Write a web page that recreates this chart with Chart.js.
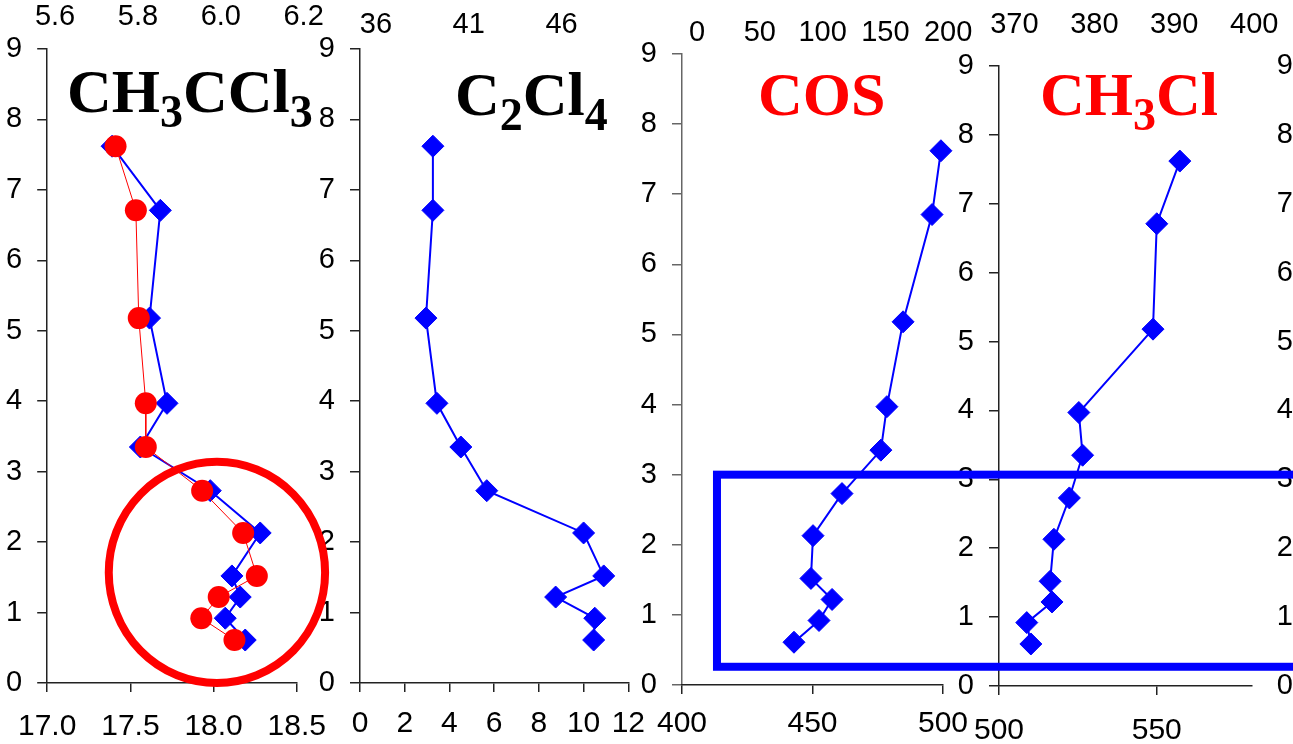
<!DOCTYPE html>
<html>
<head>
<meta charset="utf-8">
<script src="https://cdn.jsdelivr.net/npm/chart.js@4.4.1/dist/chart.umd.min.js"></script>
<style>
html,body{margin:0;padding:0;background:#fff;width:1293px;height:744px;overflow:hidden;position:relative;}
canvas{position:absolute;top:0;}
.title{position:absolute;font:bold 62px "Liberation Serif","Times New Roman",serif;line-height:62px;white-space:nowrap;z-index:10;}
.title sub{font-size:46px;vertical-align:-15px;line-height:0;}
</style>
</head>
<body>
<canvas id="c4" width="349" height="744" style="left:953px;z-index:1"></canvas>
<canvas id="c5" width="100" height="744" style="left:1272px;z-index:1"></canvas>
<canvas id="c2" width="345" height="744" style="left:314px;z-index:1"></canvas>
<canvas id="c1" width="342" height="744" style="left:1px;z-index:2"></canvas>
<canvas id="c3" width="677" height="744" style="left:636px;z-index:3"></canvas>

<div class="title" style="left:67px;top:60px;color:#000">CH<sub>3</sub>CCl<sub>3</sub></div>
<div class="title" style="left:455px;top:63px;color:#000">C<sub>2</sub>Cl<sub>4</sub></div>
<div class="title" style="left:758px;top:63px;color:#f00">COS</div>
<div class="title" style="left:1040px;top:63px;color:#f00">CH<sub>3</sub>Cl</div>

<script>
// altitude (y axis, same for every panel)
var altitude = [7.62, 6.71, 5.18, 3.97, 3.35, 2.73, 2.13, 1.52, 1.22, 0.92, 0.61];

// panel 1: CH3CCl3 (blue on bottom axis, red on top axis)
var ch3ccl3Blue = [17.39, 17.68, 17.615, 17.72, 17.56, 17.98, 18.28, 18.11, 18.16, 18.07, 18.19];
var ch3ccl3Red = [5.746, 5.795, 5.802, 5.819, 5.819, 5.955, 6.054, 6.087, 5.995, 5.953, 6.033];
// panel 2: C2Cl4
var c2cl4 = [3.26, 3.26, 2.95, 3.44, 4.51, 5.67, 10.0, 10.9, 8.75, 10.5, 10.45];
// panel 3: COS
var cos = [499.2, 495.8, 484.7, 478.5, 476.2, 461.3, 450.2, 449.4, 457.5, 452.5, 442.9];
// panel 4: CH3Cl
var ch3cl = [557.3, 550.0, 548.8, 525.3, 526.5, 522.3, 517.4, 516.2, 516.8, 508.8, 510.1];

// tick labels
var yTicks = [0, 1, 2, 3, 4, 5, 6, 7, 8, 9];
var p1Bottom = [17.0, 17.5, 18.0, 18.5];
var p1Top = [5.6, 5.8, 6.0, 6.2];
var p2Bottom = [0, 2, 4, 6, 8, 10, 12];
var p2Top = [36, 41, 46];
var p3Bottom = [400, 450, 500];
var p3Top = [0, 50, 100, 150, 200];
var p4Bottom = [500, 550];
var p4Top = [370, 380, 390, 400];

// axis ranges
var p1BottomRange = [17.0, 18.5], p1TopRange = [5.581, 6.1835];
var p2BottomRange = [0, 12], p2TopRange = [35.14, 49.6];
var p3BottomRange = [400, 500], p3TopRange = [-12.0, 195.9];
var p4BottomRange = [500, 580], p4TopRange = [368.08, 399.65];

// red ring (panel 1 units) and blue box (panel 3 units)
var ringCenter = [18.02, 1.57], ringRadius = [0.65, 1.57];
var boxX = [413.4, 660], boxY = [0.26, 3.0];

var BLUE = '#0000ff', RED = '#ff0000';
var FONT = '"Liberation Sans", Arial, sans-serif';

function pts(xs) {
    var out = [];
    for (var i = 0; i < xs.length; i++) out.push({x: xs[i], y: altitude[i]});
    return out;
}
function fixedTicks(list) {
    return function (s) { s.ticks = list.map(function (v) { return {value: v}; }); };
}
function blueSet(xs) {
    return {data: pts(xs), showLine: true, borderColor: BLUE, backgroundColor: BLUE, borderWidth: 2,
        pointStyle: 'rectRot', pointRadius: 11, pointBorderWidth: 1, pointBorderColor: BLUE,
        pointBackgroundColor: BLUE, clip: false, order: 2};
}

function panel(id, g, datasets, bottom, top, plugins) {
    var dec = g.dec || 0;
    var axisColor = g.axisColor || '#222';
    var scales = {
        y: {
            type: 'linear', position: 'left', min: 0, max: 9,
            afterBuildTicks: fixedTicks(yTicks),
            afterFit: function (s) { s.width = 46; },
            grid: {drawOnChartArea: false, drawTicks: true, tickLength: 10, color: axisColor, lineWidth: 1.5},
            border: {display: true, color: axisColor, width: 1.5},
            ticks: {font: {family: FONT, size: 29}, color: '#000', padding: 15, autoSkip: false}
        }
    };
    if (bottom) {
        scales.x = {
            type: 'linear', position: 'bottom', min: bottom.range[0], max: bottom.range[1],
            afterBuildTicks: fixedTicks(bottom.ticks),
            afterFit: function (s) { s.height = 744 - g.y0; },
            grid: {drawOnChartArea: false, drawTicks: true, tickLength: 9, color: '#222', lineWidth: 1.5},
            border: {display: true, color: '#222', width: 1.5},
            ticks: {font: {family: FONT, size: 30}, color: '#000', padding: g.bPad, autoSkip: false, maxRotation: 0,
                callback: function (v) { return v.toFixed(dec); }}
        };
        scales.x2 = {
            type: 'linear', axis: 'x', position: 'top', min: top.range[0], max: top.range[1],
            afterBuildTicks: fixedTicks(top.ticks),
            afterFit: function (s) { s.height = g.y9; },
            grid: {display: false, drawTicks: false},
            border: {display: false},
            ticks: {font: {family: FONT, size: 29}, color: '#000', padding: g.tPad, autoSkip: false, maxRotation: 0,
                callback: function (v) { return v.toFixed(dec); }}
        };
    } else {
        scales.x = {type: 'linear', display: false, min: 0, max: 1};
    }
    return new Chart(document.getElementById(id), {
        type: 'scatter',
        data: {datasets: datasets},
        options: {
            responsive: false,
            animation: false,
            events: [],
            layout: {padding: g.padding},
            plugins: {legend: {display: false}, tooltip: {enabled: false}},
            scales: scales
        },
        plugins: plugins || []
    });
}

var ringPlugin = {
    id: 'ring',
    afterDraw: function (chart) {
        var sx = chart.scales.x, sy = chart.scales.y, ctx = chart.ctx;
        var cx = sx.getPixelForValue(ringCenter[0]), cy = sy.getPixelForValue(ringCenter[1]);
        var rx = Math.abs(sx.getPixelForValue(ringCenter[0] + ringRadius[0]) - cx);
        var ry = Math.abs(sy.getPixelForValue(ringCenter[1] + ringRadius[1]) - cy);
        ctx.save();
        ctx.strokeStyle = RED;
        ctx.lineWidth = 8;
        ctx.beginPath();
        ctx.ellipse(cx, cy, rx, ry, 0, 0, Math.PI * 2);
        ctx.stroke();
        ctx.restore();
    }
};

var boxPlugin = {
    id: 'box',
    afterDraw: function (chart) {
        var sx = chart.scales.x, sy = chart.scales.y, ctx = chart.ctx;
        var x0 = sx.getPixelForValue(boxX[0]), x1 = sx.getPixelForValue(boxX[1]);
        var y0 = sy.getPixelForValue(boxY[1]), y1 = sy.getPixelForValue(boxY[0]);
        ctx.save();
        ctx.strokeStyle = BLUE;
        ctx.lineWidth = 8;
        ctx.strokeRect(x0, y0, x1 - x0, y1 - y0);
        ctx.restore();
    }
};

// panel 1
panel('c1', {y9: 49, y0: 683, bPad: 17, tPad: 15, dec: 1, padding: {right: 40}}, [
    {data: pts(ch3ccl3Red), xAxisID: 'x2', showLine: true, borderColor: RED, backgroundColor: RED, borderWidth: 1,
        pointStyle: 'circle', pointRadius: 11, pointBorderWidth: 0, pointBackgroundColor: RED, clip: false, order: 1},
    blueSet(ch3ccl3Blue)
], {range: p1BottomRange, ticks: p1Bottom}, {range: p1TopRange, ticks: p1Top}, [ringPlugin]);

// panel 2
panel('c2', {y9: 49, y0: 683, bPad: 14, tPad: 7, padding: {right: 30}}, [blueSet(c2cl4)],
    {range: p2BottomRange, ticks: p2Bottom}, {range: p2TopRange, ticks: p2Top});

// panel 3
panel('c3', {y9: 54, y0: 685, bPad: 12, tPad: 4, padding: {right: 370}, axisColor: '#666'}, [blueSet(cos)],
    {range: p3BottomRange, ticks: p3Bottom}, {range: p3TopRange, ticks: p3Top}, [boxPlugin]);

// panel 4
panel('c4', {y9: 66, y0: 686, bPad: 18, tPad: 24, padding: {right: 40}}, [blueSet(ch3cl)],
    {range: p4BottomRange, ticks: p4Bottom}, {range: p4TopRange, ticks: p4Top});

// panel 5 (only its left axis shows at the edge)
panel('c5', {y9: 66, y0: 686, padding: {top: 66, bottom: 58}}, [], null, null);
</script>
</body>
</html>
